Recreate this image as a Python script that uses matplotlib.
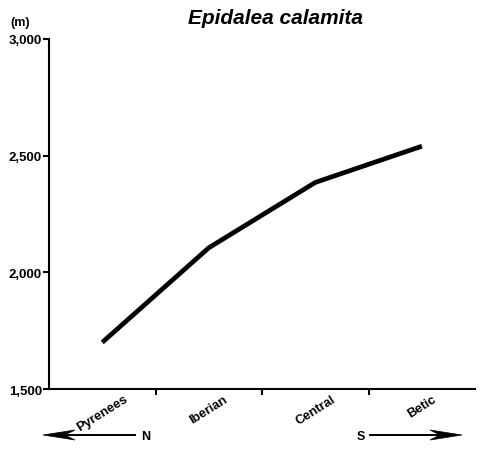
import matplotlib.pyplot as plt
from matplotlib.patches import Polygon
from matplotlib.lines import Line2D
from matplotlib.ticker import FuncFormatter

plt.rcParams['font.family'] = ['Liberation Sans', 'DejaVu Sans']

# data
regions = ["Pyrenees", "Iberian", "Central", "Betic"]
elevation = [1700, 2105, 2385, 2540]
y_ticks = [1500, 2000, 2500, 3000]

W, H = 480, 452
fig = plt.figure(figsize=(W / 100, H / 100), dpi=100)
ax = fig.add_axes([0.102, 0.137, 0.888, 0.775])

x = range(len(regions))
ax.plot(x, elevation, color="black", lw=3.4, solid_capstyle="butt")

ax.set_xlim(-0.5, len(regions) - 0.5)
ax.set_ylim(1500, 3000)
ax.set_yticks(y_ticks)
ax.yaxis.set_major_formatter(FuncFormatter(lambda v, p: f"{int(v):,}"))
ax.tick_params(axis="y", labelsize=9.5, width=1.5, length=4, pad=1)
for lab in ax.get_yticklabels():
    lab.set_fontweight("bold")

# ticks at the bin edges, labels at the centres
ax.set_xticks([i + 0.5 for i in range(len(regions) - 1)])
ax.set_xticklabels([])
ax.tick_params(axis="x", width=1.5, length=4, direction="out")
for i, r in enumerate(regions):
    ax.text(i, 1485, r, rotation=32, ha="center", va="top", fontsize=9.3,
            fontweight="bold")

for s in ["top", "right"]:
    ax.spines[s].set_visible(False)
for s in ["left", "bottom"]:
    ax.spines[s].set_linewidth(1.5)

fig.text(275 / W, 1 - 19 / H, "Epidalea calamita", fontsize=15, fontweight="bold",
         style="italic", ha="center", va="center")
fig.text(10 / W, 1 - 23 / H, "(m)", fontsize=9, fontweight="bold", ha="left", va="center")


def arrow(x0, x1, y):
    # shaft from x0 to notch, swept head ending at x1 (pixel coords)
    d = 1 if x1 > x0 else -1
    notch = x1 - d * 22
    back = x1 - d * 32
    fig.add_artist(Line2D([x0 / W, notch / W], [1 - y / H, 1 - y / H],
                          transform=fig.transFigure, color="black", lw=1.4))
    pts = [(x1, y), (back, y - 5), (notch, y), (back, y + 5)]
    fig.add_artist(Polygon([(px / W, 1 - py / H) for px, py in pts], closed=True,
                           transform=fig.transFigure, facecolor="black",
                           edgecolor="black", lw=0.5))


arrow(135, 43, 436)
fig.text(141 / W, 1 - 437 / H, "N", fontsize=9, fontweight="bold", ha="left", va="center")
arrow(370, 462, 436)
fig.text(365 / W, 1 - 437 / H, "S", fontsize=9, fontweight="bold", ha="right", va="center")

fig.savefig("out.png", dpi=100, facecolor="white")
